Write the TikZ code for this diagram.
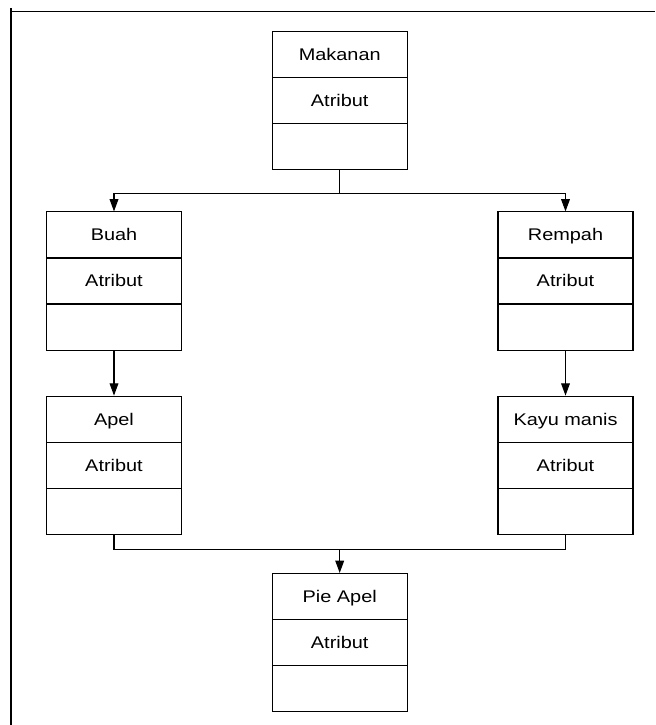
\documentclass[tikz,border=0pt]{standalone}
\usepackage{fontspec}
\newfontfamily\boxfont{Liberation Sans}[FakeStretch=1.18]
\usetikzlibrary{shapes.multipart, arrows.meta, positioning}

\newcommand{\cstrut}{\rule[-9.4pt]{0pt}{25.6pt}}

\begin{document}
\begin{tikzpicture}[
    cls/.style={rectangle split, rectangle split parts=3, draw, line width=0.6pt,
                minimum width=2.7cm, inner ysep=0pt, inner xsep=2pt,
                font=\boxfont\fontsize{9.6}{11}\selectfont, align=center},
    line/.style={line width=0.6pt},
    arrow/.style={line, -{Triangle[length=7pt, width=5pt]}},
    frame/.style={line width=1.1pt},
    node distance=0.9cm
  ]
    \useasboundingbox (0,0) rectangle (13.1,-14.5);

    % page frame
    \draw[frame] (0.22,-0.16) -- (0.22,-14.5);
    \draw[frame] (0.22,-0.23) -- (13.1,-0.23);

    \node[cls] (makanan) at (6.794,-2.01)
        {\cstrut Makanan\nodepart{two}\cstrut Atribut\nodepart{three}\cstrut};
    \node[cls] (buah) at (2.28,-5.62)
        {\cstrut Buah\nodepart{two}\cstrut Atribut\nodepart{three}\cstrut};
    \node[cls] (rempah) at (11.31,-5.62)
        {\cstrut Rempah\nodepart{two}\cstrut Atribut\nodepart{three}\cstrut};
    \node[cls, below=of buah] (apel)
        {\cstrut Apel\nodepart{two}\cstrut Atribut\nodepart{three}\cstrut};
    \node[cls, below=of rempah] (kayu)
        {\cstrut Kayu manis\nodepart{two}\cstrut Atribut\nodepart{three}\cstrut};
    \node[cls] (pie) at (6.794,-12.85)
        {\cstrut Pie Apel\nodepart{two}\cstrut Atribut\nodepart{three}\cstrut};

    \coordinate[below=0.46cm of makanan.south] (split);
    \coordinate[above=0.46cm of pie.north] (join);

    \draw[line] (makanan.south) -- (split);
    \draw[arrow] (split) -| (buah.north);
    \draw[arrow] (split) -| (rempah.north);
    \draw[arrow] (buah) -- (apel);
    \draw[arrow] (rempah) -- (kayu);
    \draw[line] (apel.south) |- (join);
    \draw[line] (kayu.south) |- (join);
    \draw[arrow] (join) -- (pie.north);
  \end{tikzpicture}
\end{document}
